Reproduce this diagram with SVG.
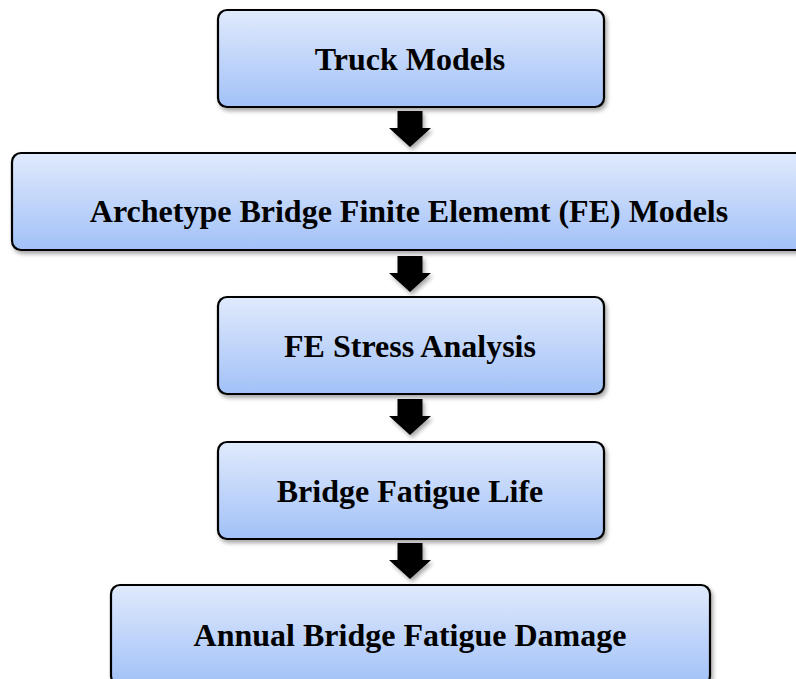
<svg xmlns="http://www.w3.org/2000/svg" width="796" height="679" viewBox="0 0 796 679">
<defs>
<linearGradient id="g" x1="0" y1="0" x2="0" y2="1">
<stop offset="0" stop-color="#e0eafc"/>
<stop offset="1" stop-color="#a2c1f8"/>
</linearGradient>
<filter id="sh" x="-10%" y="-20%" width="120%" height="140%">
<feDropShadow dx="2" dy="3" stdDeviation="2" flood-color="#000" flood-opacity="0.35"/>
</filter>
<path id="arr" d="M-12.5,0 H12.5 V17 H21 L0,36 L-21,17 H-12.5 Z"/>
</defs>
<style>
.box{fill:url(#g);stroke:#000;stroke-width:2.2;filter:url(#sh)}
.lbl{font-family:"Liberation Serif","Times New Roman",serif;font-weight:bold;font-size:32px;fill:#000;text-anchor:middle}
.a{fill:#000;filter:url(#sh)}
</style>
<rect width="796" height="679" fill="#fff"/>
<g id="connectors">
<use href="#arr" class="a" x="410" y="111"/>
<use href="#arr" class="a" x="410" y="256"/>
<use href="#arr" class="a" x="410" y="399"/>
<use href="#arr" class="a" x="410" y="543"/>
</g>
<g id="n1"><rect class="box" x="218" y="10" width="386" height="97" rx="9"/><text class="lbl" x="410" y="70">Truck Models</text></g>
<g id="n2"><rect class="box" x="12" y="153" width="796" height="97" rx="9"/><text class="lbl" x="409" y="222">Archetype Bridge Finite Elememt (FE) Models</text></g>
<g id="n3"><rect class="box" x="218" y="297" width="386" height="97" rx="9"/><text class="lbl" x="410" y="357">FE Stress Analysis</text></g>
<g id="n4"><rect class="box" x="218" y="442" width="386" height="97" rx="9"/><text class="lbl" x="410" y="502">Bridge Fatigue Life</text></g>
<g id="n5"><rect class="box" x="111" y="585" width="599" height="100" rx="9"/><text class="lbl" x="410" y="646">Annual Bridge Fatigue Damage</text></g>
</svg>
